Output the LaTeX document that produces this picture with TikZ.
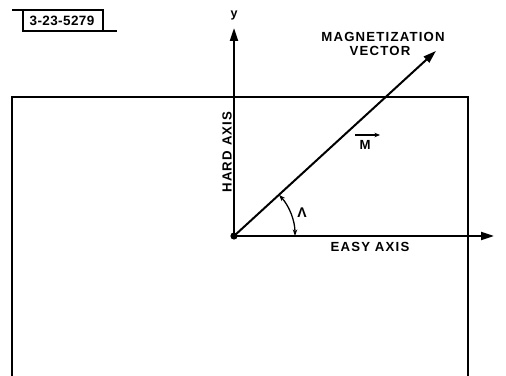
\documentclass[tikz,border=0pt]{standalone}
\usepackage{fontspec}
\setmainfont{Liberation Sans}[LetterSpace=9]
\usetikzlibrary{arrows.meta,calc}
\begin{document}
\begin{tikzpicture}[x=1pt,y=1pt,
  ln/.style={line width=2pt,line cap=round},
  frame/.style={line width=1.5pt},
  lbl/.style={inner sep=0pt,font=\fontsize{13.2}{14}\bfseries},
  bigtip/.style={-{Triangle[length=13pt,width=8pt]}},
  arcarrows/.style={{Stealth[length=6.5pt,width=4.5pt]}-{Stealth[length=6.5pt,width=4.5pt]}}]
\useasboundingbox (0,0) rectangle (506,375);
% coordinates
\coordinate (O) at (234,139);
\coordinate (ytip) at (234,347);
\coordinate (xtip) at (494,139);
\coordinate (mtip) at ($(O)+(42.5:274)$);
\coordinate (rTL) at (12,278);
\coordinate (rTR) at (468,278);
\coordinate (rBL) at (12,-5);
\coordinate (rBR) at (468,-5);
% frame
\draw[frame] (rBL) -- (rTL) -- (rTR) -- (rBR);
% label box
\coordinate (bTL0) at (12,365);
\coordinate (bTR) at (103,365);
\coordinate (bBR) at (103,344);
\coordinate (bTL) at (23,365);
\coordinate (bBL) at (23,344);
\coordinate (bBR0) at (117,344);
\draw[line width=1.3pt] (bTL0) -- (bTR) -- (bBR);
\draw[line width=1.3pt] (bTL) -- (bBL) -- (bBR0);
\node[lbl,font=\fontsize{13.5}{14}\bfseries\addfontfeature{LetterSpace=3}] (num) at (62,354.5) {3-23-5279};
% axes
\draw[ln,bigtip] (O) -- (ytip);
\draw[ln,bigtip] (O) -- (xtip);
\draw[ln,bigtip] (O) -- (mtip);
\fill (O) circle (3.6pt);
% angle
\draw[line width=1.3pt,arcarrows] ($(O)+(0:61)$) arc (0:42.5:61);
% labels
\node[lbl,font=\fontsize{12.5}{13}\bfseries] (ylab) at (234,360) {y};
\node[lbl] (xlab) at (510,138) {x};
\node[lbl] (mag) at (383,338.5) {MAGNETIZATION};
\node[lbl] (vec) at (380,324) {VECTOR};
\node[lbl] (M) at (365,230) {M};
\draw[line width=1.2pt,-{Stealth[length=5.5pt,width=4.5pt]}] (355,240) -- (380,240);
\node[lbl,rotate=90] (hard) at (227,223) {HARD AXIS};
\node[lbl,font=\fontsize{14}{14}\bfseries] (lam) at (302,162) {Λ};
\node[lbl] (easy) at (370,128) {EASY AXIS};
\end{tikzpicture}
\end{document}
